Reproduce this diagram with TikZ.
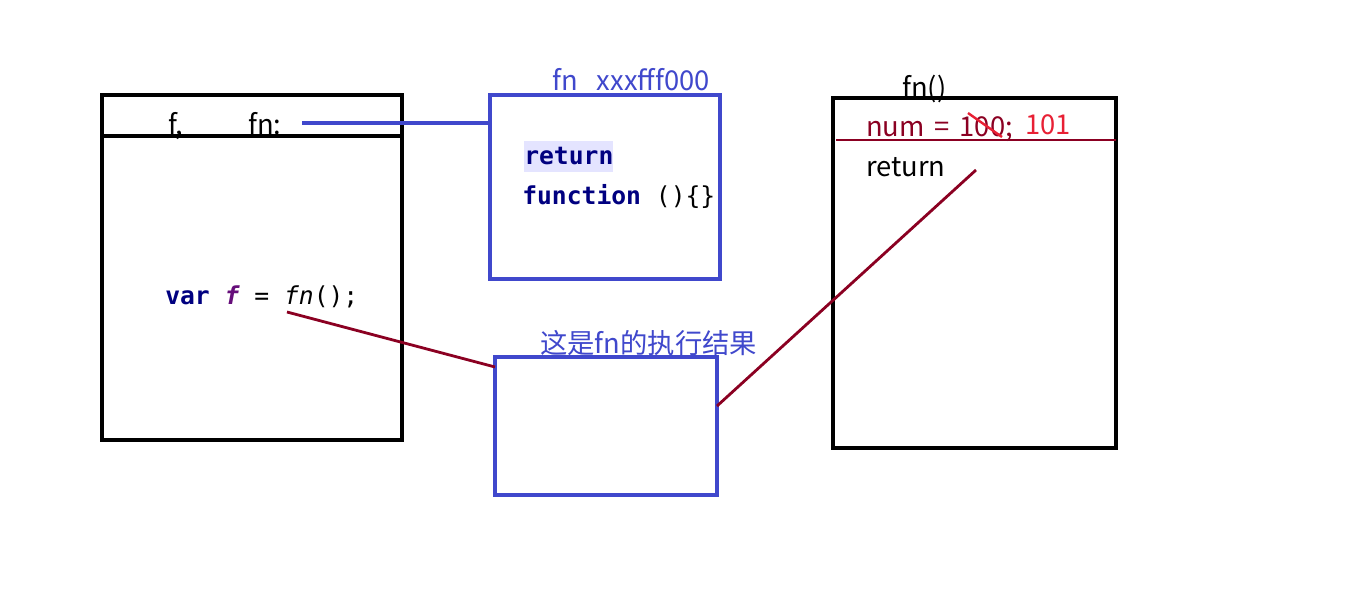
\documentclass[tikz,border=0pt]{standalone}
\usepackage{fontspec}
\setmainfont{Noto Sans CJK SC}
\setmonofont{DejaVu Sans Mono}
\definecolor{boxblue}{RGB}{64,72,204}
\definecolor{wine}{RGB}{139,0,34}
\definecolor{hotred}{RGB}{232,32,52}
\definecolor{kwnavy}{RGB}{0,0,128}
\definecolor{varpurple}{RGB}{102,14,122}
\definecolor{hilite}{RGB}{228,228,255}
\newcommand{\labelfont}{\fontsize{20.5}{24}\selectfont\spaceskip 0.36em\relax}
\tikzset{
  frame/.style={draw, inner sep=0pt, outer sep=0pt, anchor=north west},
  label/.style={inner sep=0pt, anchor=base west, font=\labelfont},
  code/.style={inner sep=0pt, anchor=base west, font=\fontsize{18.5}{22}\selectfont\ttfamily},
  wireblue/.style={draw=boxblue, line width=2.3pt},
  wirered/.style={draw=wine, line width=2.1pt},
}
\begin{document}
\begin{tikzpicture}[x=0.75pt, y=-0.75pt]
\useasboundingbox[fill=white] (0,0) rectangle (1360,591);

% stack frame on the left
\node[frame, line width=3.2pt, minimum width=300*0.75pt, minimum height=345*0.75pt] (stack) at (102,95) {};
\draw[line width=2.4pt] (stack.west |- 0,136) -- (stack.east |- 0,136);
\node[label] (fvar) at (168,135) {f,};
\node[label] (fnvar) at (248,135) {fn:};
\coordinate (fnref) at (302,123);
\node[code] (call) at (165,305) {\textbf{\color{kwnavy}var} \textbf{\textit{\color{varpurple}f}} = \textit{fn}();};
\coordinate (callmark) at (287,312);

% heap object holding fn
\node[frame, draw=boxblue, line width=2.4pt, minimum width=230*0.75pt, minimum height=184*0.75pt] (heap) at (490,95) {};
\node[label, text=boxblue] (heapname) at (552,91) {fn\hspace{0.7em}xxxfff000};
\fill[hilite] (524,141) rectangle (613,172);
\node[code] (ret) at (524,165) {\textbf{\color{kwnavy}return}};
\node[code] (fun) at (522,205) {\textbf{\color{kwnavy}function} ()\{\}};

% result of calling fn
\node[frame, draw=boxblue, line width=2.4pt, minimum width=222*0.75pt, minimum height=138*0.75pt] (result) at (495,357) {};
\node[label, text=boxblue] (resname) at (540,354) {这是fn的执行结果};

% execution context of fn()
\node[frame, line width=2.4pt, minimum width=283*0.75pt, minimum height=350*0.75pt] (exec) at (833,98) {};
\node[label] (execname) at (902,98) {fn()};
\node[label, text=wine] (numline) at (866,137) {num = 100;};
\node[label, text=hotred] (newval) at (1025,135) {101};
\draw[hotred, line width=1.8pt] (968,113) -- (1002,137);
\draw[wirered] (836,140) -- (exec.east |- 0,140);
\node[label] (retline) at (866,177) {return};
\coordinate (retmark) at (976,170);

% connectors
\draw[wireblue] (fnref) -- (heap.west |- fnref);
\draw[wirered] (callmark) -- (result.west |- 0,367);
\draw[wirered] (result.east |- 0,406) -- (retmark);
\end{tikzpicture}
\end{document}
